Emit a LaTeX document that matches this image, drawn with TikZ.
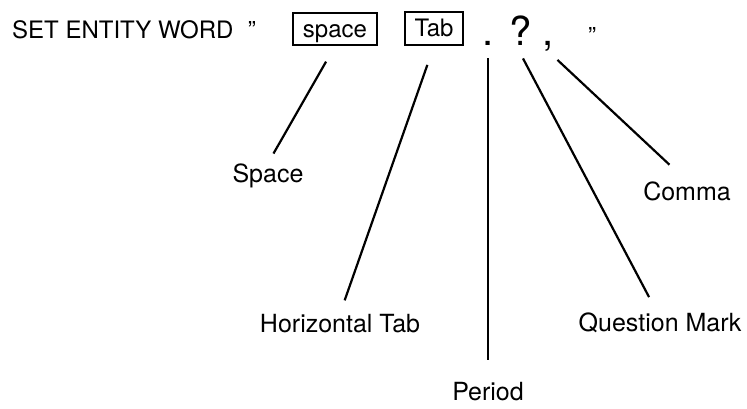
\documentclass[tikz,border=0pt]{standalone}
\usepackage{fontspec}
\setmainfont{TeX Gyre Heros}
\newcommand{\titlesize}{\fontsize{24}{28}\selectfont}
\newcommand{\lblsize}{\fontsize{25}{30}\selectfont}
\newcommand{\punctsize}{\fontsize{40}{48}\selectfont}
\tikzset{
    common/.style={inner sep=0pt, anchor=base},
    keybox/.style={draw, line width=2pt, inner sep=0pt, font=\titlesize, text height=20pt, text depth=4pt},
    punct/.style={common, font=\punctsize},
    lbl/.style={common, font=\lblsize},
    lead/.style={line width=2.2pt}
}

\begin{document}
\begin{tikzpicture}[x=1pt, y=-1pt]
    \useasboundingbox (0,0) rectangle (747,408);

    % top line
    \node[common, anchor=base west, font=\titlesize] (title) at (12,38) {SET ENTITY WORD\hspace{0.6em}''};
    \node[keybox, minimum width=84pt, minimum height=32pt] (spacekey) at (335,29) {space};
    \node[keybox, minimum width=58pt, minimum height=33pt] (tabkey) at (434,28.5) {Tab};
    \node[punct] (period) at (488,45) {.};
    \node[punct] (qmark) at (521,45) {?};
    \node[punct] (comma) at (548,45) {,};
    \node[common, font=\titlesize] (endquote) at (592,44) {''};

    % labels
    \node[lbl] (spacelbl) at (268,182) {Space};
    \node[lbl] (htablbl) at (340,332) {Horizontal Tab};
    \node[lbl] (periodlbl) at (488,400) {Period};
    \node[lbl] (qlbl) at (660,331) {Question Mark};
    \node[lbl] (commalbl) at (687,200) {Comma};

    \draw[lead, shorten <=18pt, shorten >=11pt] (spacekey.south) -- (spacelbl.north);
    \draw[lead, shorten <=20pt, shorten >=14pt] (tabkey.south) -- (htablbl.north);
    \draw[lead, shorten <=13pt, shorten >=22pt] (period.south) -- (periodlbl.north);
    \draw[lead, shorten <=15pt, shorten >=17pt] ([xshift=-5pt]qmark.south) -- ([xshift=-3pt]qlbl.north);
    \draw[lead, shorten <=13pt, shorten >=24pt] (comma.south) -- (commalbl.north);
\end{tikzpicture}
\end{document}
